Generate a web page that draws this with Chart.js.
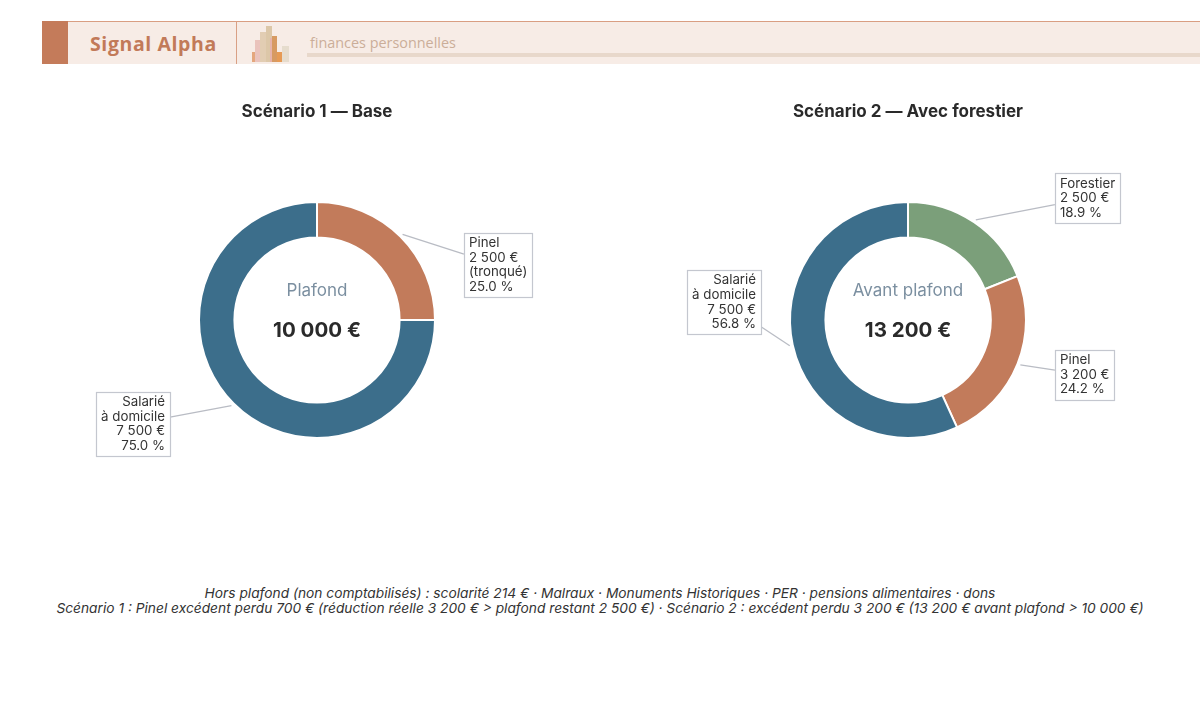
<!DOCTYPE html>
<html lang="fr">
<head>
<meta charset="utf-8">
<title>Signal Alpha — plafond des niches fiscales</title>
<script src="https://cdn.jsdelivr.net/npm/chart.js@4.4.1/dist/chart.umd.min.js"></script>
<style>
  html, body { margin: 0; padding: 0; background: #fff; }
  body { width: 1200px; height: 721px; position: relative; overflow: hidden; font-family: Inter, "Noto Sans", sans-serif; }
  .band { position: absolute; left: 42px; top: 21px; width: 1158px; height: 43px; background: #f7ece6; border-top: 1px solid #d99e82; box-sizing: border-box; }
  .accent { position: absolute; left: 42px; top: 21px; width: 26px; height: 43px; background: #c47b5a; }
  .brand { position: absolute; left: 90px; top: 30px; font-family: "Open Sans", sans-serif; font-weight: 700; font-size: 19.5px; color: #c27a59; letter-spacing: 0.6px; }
  .sep { position: absolute; left: 236px; top: 21px; width: 1px; height: 43px; background: #d9a085; }
  .icon { position: absolute; left: 250px; top: 26px; width: 42px; height: 36px; }
  .icon span { position: absolute; bottom: 0; }
  .tagline { position: absolute; left: 310px; top: 33px; font-family: "Open Sans", sans-serif; font-size: 14.4px; color: #cbae99; }
  .rule { position: absolute; left: 307px; top: 53px; width: 893px; height: 4px; background: #e8d8cb; }
  canvas { position: absolute; top: 80px; }
  #c1 { left: 17px; }
  #c2 { left: 608px; }
  .notes { position: absolute; left: 0; top: 586px; width: 1200px; text-align: center; font-style: italic; font-size: 13.75px; line-height: 15px; color: #333; }
</style>
</head>
<body>
<div class="band"></div>
<div class="accent"></div>
<div class="brand">Signal Alpha</div>
<div class="sep"></div>
<div class="icon">
  <span style="left:2px;width:7px;height:10px;background:#e4a77e"></span>
  <span style="left:5px;width:6px;height:22px;background:#eac3bc"></span>
  <span style="left:10px;width:8px;height:30px;background:#e2cdb3"></span>
  <span style="left:16px;width:6px;height:36px;background:#dcc7a8"></span>
  <span style="left:20px;width:6px;height:24px;background:#e6b3aa"></span>
  <span style="left:22px;width:5px;height:26px;background:#d79a62"></span>
  <span style="left:27px;width:5px;height:10px;background:#e69a55"></span>
  <span style="left:32px;width:7px;height:16px;background:#e6dccd"></span>
</div>
<div class="tagline">finances personnelles</div>
<div class="rule"></div>

<canvas id="c1" width="600" height="480"></canvas>
<canvas id="c2" width="600" height="480"></canvas>

<div class="notes">
  Hors plafond (non comptabilisés) : scolarité 214 € · Malraux · Monuments Historiques · PER · pensions alimentaires · dons<br>
  Scénario 1 : Pinel excédent perdu 700 € (réduction réelle 3 200 € &gt; plafond restant 2 500 €) · Scénario 2 : excédent perdu 3 200 € (13 200 € avant plafond &gt; 10 000 €)
</div>

<script>
// données
const titles = ['Scénario 1 — Base', 'Scénario 2 — Avec forestier'];
const centerLabels = ['Plafond', 'Avant plafond'];

const labels1 = ['Pinel', 'Salarié\nà domicile'];
const values1 = [2500, 7500];
const notes1 = ['(tronqué)', ''];
const colors1 = ['#c27b5b', '#3c6e8b'];

const labels2 = ['Forestier', 'Pinel', 'Salarié\nà domicile'];
const values2 = [2500, 3200, 7500];
const notes2 = ['', '', ''];
const colors2 = ['#7b9f7a', '#c27b5b', '#3c6e8b'];

// décalages verticaux des étiquettes (px)
const nudges1 = [49, 0];
const nudges2 = [0, 0, -49];

function euros(v) {
    return String(v).replace(/\B(?=(\d{3})+(?!\d))/g, ' ') + ' €';
}

const centerText = {
    id: 'centerText',
    afterDraw(chart) {
        const arc = chart.getDatasetMeta(0).data[0];
        const ctx = chart.ctx;
        const total = chart.data.datasets[0].data.reduce((a, b) => a + b, 0);
        ctx.save();
        ctx.textAlign = 'center';
        ctx.textBaseline = 'middle';
        ctx.fillStyle = '#7b8fa0';
        ctx.font = '17px Inter';
        ctx.fillText(chart.options.plugins.centerText.label, arc.x, arc.y - 29);
        ctx.fillStyle = '#2a2a2a';
        ctx.font = 'bold 20.5px Inter';
        ctx.fillText(euros(total), arc.x, arc.y + 11);
        ctx.restore();
    }
};

const calloutLabels = {
    id: 'calloutLabels',
    afterDraw(chart) {
        const ctx = chart.ctx;
        const ds = chart.data.datasets[0];
        const opts = chart.options.plugins.calloutLabels;
        const total = ds.data.reduce((a, b) => a + b, 0);
        const lineH = 14.6;
        ctx.save();
        ctx.font = '13.3px Inter';
        chart.getDatasetMeta(0).data.forEach((arc, i) => {
            const R = arc.outerRadius + 1;
            const mid = (arc.startAngle + arc.endAngle) / 2;
            const side = Math.cos(mid) >= 0 ? 1 : -1;
            const lines = chart.data.labels[i].split('\n');
            lines.push(euros(ds.data[i]));
            if (opts.notes[i]) lines.push(opts.notes[i]);
            lines.push((ds.data[i] / total * 100).toFixed(1) + ' %');

            const w = Math.max(...lines.map(l => ctx.measureText(l).width)) + 10;
            const h = lines.length * lineH + 6;
            const nearX = arc.x + side * 1.235 * R;
            const cy = arc.y + Math.sin(mid) * 1.235 * R + opts.nudges[i];
            const bx = side > 0 ? nearX : nearX - w;
            const by = cy - h / 2;

            // trait de rappel
            const sx = arc.x + Math.cos(mid) * (R + 2);
            const sy = arc.y + Math.sin(mid) * (R + 2);
            const bcx = bx + w / 2;
            const t = (nearX - sx) / (bcx - sx);
            ctx.strokeStyle = '#b9bcc4';
            ctx.lineWidth = 1.3;
            ctx.beginPath();
            ctx.moveTo(sx, sy);
            ctx.lineTo(nearX, sy + t * (cy - sy));
            ctx.stroke();

            // boîte
            ctx.fillStyle = '#fff';
            ctx.fillRect(bx, by, w, h);
            ctx.strokeStyle = '#c4c7cf';
            ctx.lineWidth = 1.2;
            ctx.strokeRect(Math.round(bx) + 0.5, Math.round(by) + 0.5, Math.round(w), Math.round(h));

            ctx.fillStyle = '#333';
            ctx.textBaseline = 'middle';
            ctx.textAlign = side > 0 ? 'left' : 'right';
            const tx = side > 0 ? bx + 5 : bx + w - 5;
            lines.forEach((l, k) => ctx.fillText(l, tx, by + 3 + lineH * (k + 0.5)));
        });
        ctx.restore();
    }
};

function makeDonut(id, title, center, labels, values, colors, notes, nudges) {
    return new Chart(document.getElementById(id), {
        type: 'doughnut',
        data: {
            labels: labels,
            datasets: [{
                data: values,
                backgroundColor: colors,
                borderColor: '#ffffff',
                borderWidth: 2
            }]
        },
        options: {
            responsive: false,
            animation: false,
            cutout: '70%',
            layout: { padding: { top: 0, bottom: 121 } },
            plugins: {
                legend: { display: false },
                tooltip: { enabled: false },
                title: {
                    display: true,
                    text: title,
                    color: '#2a2a2a',
                    font: { family: 'Inter', size: 17, weight: 'bold' },
                    padding: { top: 22, bottom: 78.6 }
                },
                centerText: { label: center },
                calloutLabels: { notes: notes, nudges: nudges }
            }
        },
        plugins: [centerText, calloutLabels]
    });
}

const chart1 = makeDonut('c1', titles[0], centerLabels[0], labels1, values1, colors1, notes1, nudges1);
const chart2 = makeDonut('c2', titles[1], centerLabels[1], labels2, values2, colors2, notes2, nudges2);
</script>
</body>
</html>
